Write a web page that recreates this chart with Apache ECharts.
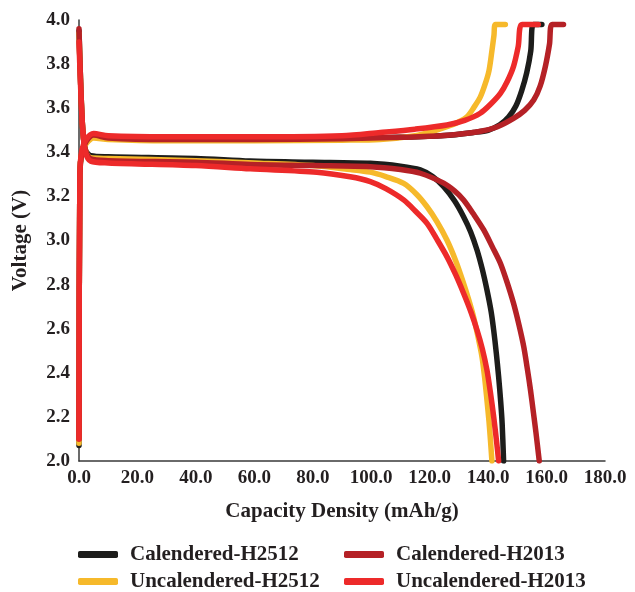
<!DOCTYPE html>
<html>
<head>
<meta charset="utf-8">
<script src="https://cdn.jsdelivr.net/npm/echarts@6/dist/echarts.min.js"></script>
<style>
html,body{margin:0;padding:0;background:#fff;}
#chart{width:635px;height:592px;}
</style>
</head>
<body>
<div id="chart"></div>
<script>
// [capacity mAh/g, voltage V]
var cal2512Charge = [[0,2.07],[0.3,3.3],[1,3.40],[2.5,3.45],[5,3.475],[10,3.465],[30,3.458],[60,3.458],[90,3.462],[110,3.468],[125,3.476],[135,3.49],[140,3.5],[144,3.525],[147,3.56],[149.5,3.61],[151.5,3.68],[153.2,3.76],[154.6,3.86],[155.5,3.98],[158.4,3.98]];
var cal2512Discharge = [[0,3.95],[0.6,3.7],[1.3,3.5],[2.2,3.41],[4,3.385],[10,3.38],[40,3.372],[58.6,3.36],[80,3.355],[99.7,3.35],[110,3.337],[116.8,3.32],[121,3.29],[124.8,3.244],[128.5,3.18],[131.6,3.108],[134,3.04],[136.2,2.957],[138,2.87],[139.6,2.776],[141,2.68],[141.9,2.594],[142.8,2.49],[143.6,2.382],[144.3,2.27],[144.8,2.171],[145.3,2.0]];

var cal2013Charge = [[0,2.1],[0.3,3.3],[1,3.4],[2.5,3.45],[5,3.478],[10,3.465],[30,3.458],[60,3.458],[90,3.462],[110,3.468],[125,3.476],[137,3.494],[143,3.515],[148.7,3.554],[152.5,3.59],[155.6,3.637],[157.8,3.7],[159.6,3.79],[161,3.89],[161.9,3.98],[165.8,3.98]];
var cal2013Discharge = [[0,3.96],[0.6,3.7],[1.3,3.5],[2.2,3.41],[4,3.37],[10,3.362],[40,3.355],[58.6,3.345],[80,3.34],[99.7,3.335],[110,3.322],[116.8,3.305],[124.8,3.26],[128.5,3.225],[131.6,3.184],[135,3.12],[138.5,3.048],[141.5,2.97],[144.2,2.897],[146.5,2.81],[148.7,2.715],[150.6,2.615],[152.2,2.518],[153.4,2.42],[154.5,2.322],[155.5,2.22],[156.4,2.126],[157.5,2.0]];

var uncal2512Charge = [[0,2.08],[0.3,3.3],[1,3.4],[2.5,3.44],[5,3.465],[10,3.458],[30,3.452],[60,3.452],[90,3.455],[103,3.458],[115,3.475],[121,3.495],[125.9,3.516],[129.5,3.535],[132.8,3.561],[135.2,3.605],[137.3,3.65],[139,3.71],[140.3,3.77],[141.3,3.86],[142,3.93],[142.5,3.98],[145.9,3.98]];
var uncal2512Discharge = [[0,3.94],[0.6,3.7],[1.3,3.5],[2.2,3.41],[4,3.375],[10,3.372],[40,3.362],[60,3.352],[80,3.34],[92.8,3.322],[99.7,3.31],[105,3.29],[111.1,3.259],[115.5,3.21],[119.1,3.153],[122.5,3.085],[125.9,3.002],[129,2.905],[131.6,2.806],[133.4,2.73],[135,2.655],[136.6,2.56],[137.9,2.473],[138.8,2.38],[139.6,2.277],[140.3,2.18],[140.8,2.095],[141.3,2.0]];

var uncal2013Charge = [[0,2.1],[0.3,3.3],[1,3.41],[2.5,3.46],[5,3.485],[10,3.475],[30,3.47],[60,3.47],[90,3.475],[103.1,3.49],[115,3.505],[125.9,3.524],[132,3.545],[137.3,3.577],[141,3.62],[144.2,3.667],[146.5,3.72],[148.7,3.79],[150.3,3.88],[151.6,3.98],[157.2,3.98]];
var uncal2013Discharge = [[0,3.9],[0.6,3.68],[1.3,3.5],[2.2,3.4],[4,3.36],[10,3.352],[40,3.34],[58.6,3.325],[81.4,3.31],[92.8,3.289],[99.7,3.267],[105,3.235],[111.1,3.184],[115,3.135],[119.1,3.078],[122.5,3.005],[125.9,2.927],[128.9,2.845],[131.6,2.761],[134,2.68],[136.2,2.594],[138,2.51],[139.6,2.413],[140.8,2.31],[141.9,2.201],[142.8,2.1],[143.6,2.0]];

var names = ['Calendered-H2512', 'Calendered-H2013', 'Uncalendered-H2512', 'Uncalendered-H2013'];
var colors = ['#1d1d1b', '#b52126', '#f6b92b', '#ed2a2a'];

var font = '"Liberation Serif", "DejaVu Serif", serif';

function curve(name, color, data) {
    return {
        name: name,
        type: 'line',
        data: data,
        symbol: 'none',
        smooth: 0.3,
        color: color,
        lineStyle: { width: 5.5, color: color, cap: 'round', join: 'round' }
    };
}

function legendItem(name, left, top) {
    return {
        data: [name],
        left: left, top: top,
        icon: 'roundRect', itemWidth: 40, itemHeight: 7,
        textStyle: { fontFamily: font, fontWeight: 'bold', fontSize: 21, color: '#231f20', padding: [0, 0, 0, 7] }
    };
}

var myChart = echarts.init(document.getElementById('chart'));

myChart.setOption({
    animation: false,
    grid: { left: 79, right: 30, top: 20, bottom: 131, containLabel: false },
    legend: [
        legendItem(names[0], 73, 539),
        legendItem(names[2], 73, 566),
        legendItem(names[1], 339, 539),
        legendItem(names[3], 339, 566)
    ],
    xAxis: {
        type: 'value', min: 0, max: 180, interval: 20,
        name: 'Capacity Density (mAh/g)', nameLocation: 'middle', nameGap: 40,
        nameTextStyle: { fontFamily: font, fontWeight: 'bold', fontSize: 21, color: '#231f20' },
        axisLine: { lineStyle: { color: '#3a3a3a', width: 1.5 } },
        axisTick: { show: false },
        splitLine: { show: false },
        axisLabel: { fontFamily: font, fontWeight: 'bold', fontSize: 19, color: '#231f20', margin: 8,
            formatter: function (v) { return v.toFixed(1); } }
    },
    yAxis: {
        type: 'value', min: 2, max: 4, interval: 0.2,
        name: 'Voltage (V)', nameLocation: 'middle', nameGap: 48,
        nameTextStyle: { fontFamily: font, fontWeight: 'bold', fontSize: 21, color: '#231f20' },
        axisLine: { show: true, lineStyle: { color: '#3a3a3a', width: 1.5 } },
        axisTick: { show: false },
        splitLine: { show: false },
        axisLabel: { fontFamily: font, fontWeight: 'bold', fontSize: 19, color: '#231f20', margin: 9,
            formatter: function (v) { return v.toFixed(1); } }
    },
    series: [
        curve(names[0], colors[0], cal2512Charge),
        curve(names[0], colors[0], cal2512Discharge),
        curve(names[2], colors[2], uncal2512Charge),
        curve(names[2], colors[2], uncal2512Discharge),
        curve(names[1], colors[1], cal2013Charge),
        curve(names[1], colors[1], cal2013Discharge),
        curve(names[3], colors[3], uncal2013Charge),
        curve(names[3], colors[3], uncal2013Discharge)
    ]
});
</script>
</body>
</html>
